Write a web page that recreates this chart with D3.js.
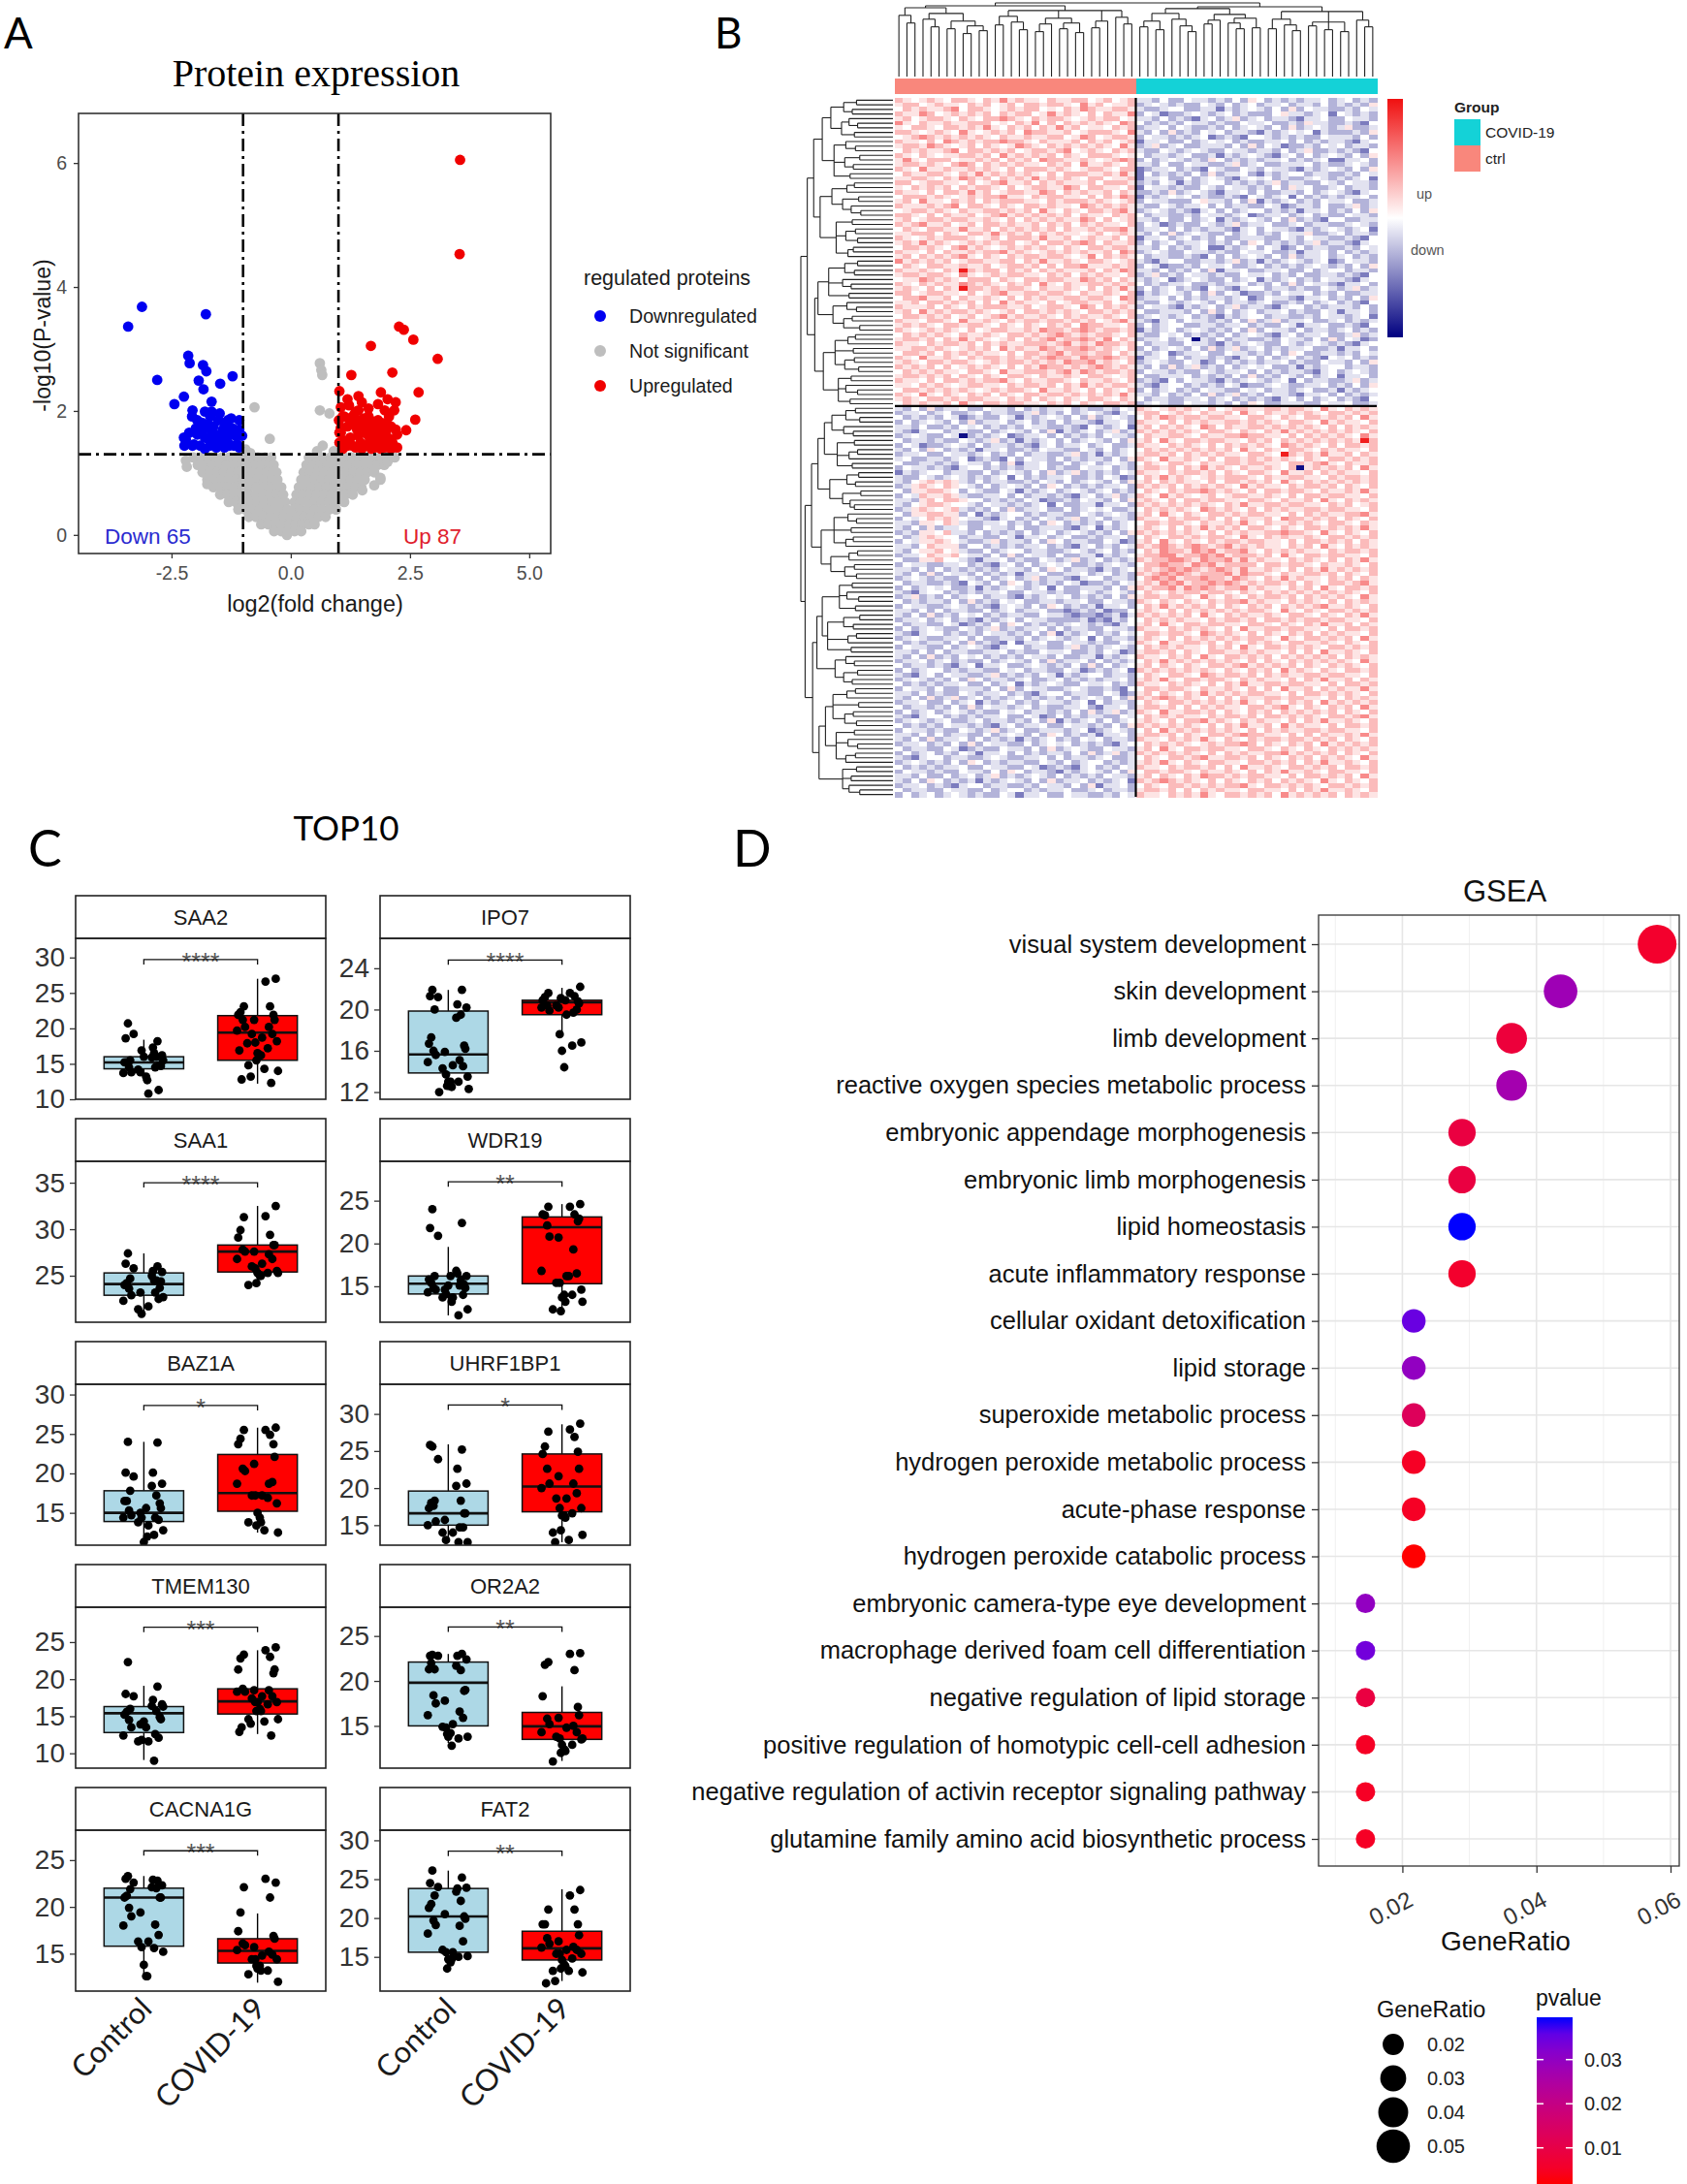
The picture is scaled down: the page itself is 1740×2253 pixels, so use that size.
<!DOCTYPE html>
<html><head><meta charset="utf-8">
<script src="https://cdn.jsdelivr.net/npm/d3@7"></script>
<style>body{margin:0;background:#fff}svg{display:block}</style>
</head><body>
<svg id="fig" width="1740" height="2253"></svg>
<script>
// ================= DATA =================
// ---- Panel A : volcano ----
const volcanoXTicks = [-2.5, 0, 2.5, 5];
const volcanoYTicks = [0, 2, 4, 6];
const volcanoXDomain = [-4.45, 5.45];
const volcanoYDomain = [-0.3, 6.8];
const fcCut = 1, pCut = 1.301;
const volcanoDown = [[-3.12,3.68],[-3.41,3.36],[-1.78,3.56],[-2.80,2.50],[-2.15,2.89],[-2.12,2.77],[-1.84,2.74],[-1.77,2.64],[-1.93,2.49],[-1.83,2.35],[-1.48,2.44],[-1.22,2.56],[-2.24,2.23],[-2.44,2.11],[-1.66,2.15],[-2.06,2.01],[-1.69,1.91],[-1.49,1.96],[-1.96,1.85],[-1.32,1.85],[-1.08,1.85],[-2.20,1.54],[-2.03,1.46],[-1.83,1.70],[-1.62,1.75],[-1.42,1.70],[-1.22,1.72],[-1.80,1.57],[-1.56,1.60],[-1.35,1.57],[-1.15,1.60],[-1.69,1.44],[-1.49,1.46],[-1.29,1.44],[-1.12,1.46],[-1.90,1.44],[-1.73,1.78],[-1.39,1.80],[-2.13,1.65],[-1.96,1.62],[-1.62,1.52],[-1.25,1.62],[-1.08,1.70],[-1.52,1.85],[-2.07,1.91],[-1.86,1.81],[-1.65,1.65],[-1.45,1.55],[-1.32,1.49],[-1.19,1.44],[-2.06,1.44],[-2.23,1.44],[-1.73,1.55],[-1.39,1.41],[-1.56,1.41],[-1.80,1.39],[-1.08,1.41],[-1.25,1.88],[-1.66,1.99],[-1.35,1.70],[-1.49,1.62],[-1.99,1.72],[-1.02,1.60],[-2.24,1.57],[-1.80,1.99]];
const volcanoUp = [[3.55,6.05],[3.54,4.53],[2.27,3.36],[2.37,3.31],[2.57,3.15],[1.68,3.05],[3.08,2.84],[1.27,2.58],[2.13,2.62],[2.68,2.30],[1.02,2.32],[1.42,2.24],[1.89,2.30],[2.03,2.19],[2.20,2.14],[2.61,1.86],[2.42,1.69],[2.06,1.91],[1.83,2.11],[1.63,2.04],[1.49,2.14],[1.22,2.09],[1.05,2.06],[1.01,1.85],[1.12,1.91],[1.32,1.93],[1.53,1.88],[1.73,1.83],[1.94,1.80],[2.10,1.75],[1.97,2.01],[1.19,1.75],[1.39,1.70],[1.59,1.65],[1.80,1.67],[2.00,1.60],[1.05,1.65],[1.25,1.57],[1.46,1.49],[1.66,1.52],[1.86,1.46],[2.06,1.44],[2.23,1.41],[1.02,1.49],[1.19,1.44],[1.36,1.41],[1.56,1.44],[1.76,1.41],[1.97,1.41],[2.13,1.49],[1.12,1.52],[1.29,1.80],[1.49,1.75],[1.69,1.70],[1.89,1.65],[1.63,1.91],[1.36,1.99],[1.09,1.91],[1.83,1.85],[2.03,1.78],[2.23,1.62],[1.42,1.60],[1.94,1.52],[2.17,2.01],[1.19,2.19],[1.02,1.65],[1.39,1.85],[1.59,1.78],[1.80,1.55],[2.00,1.67],[2.20,1.70],[1.05,1.73],[1.22,1.88],[1.42,2.01],[1.63,1.60],[1.83,1.75],[2.06,1.55],[1.29,1.44],[1.49,1.39],[1.69,1.39],[1.89,1.39],[2.10,1.39],[1.09,1.39]];
// not-significant proteins, grouped by -log10(P) level: [y, [x...]]
const volcanoNSRows = [
  [1.25,[-2.04,-1.89,-1.74,-1.59,-1.44,-1.29,-1.14,-0.99,-0.84,-0.69,-0.54,-0.41,0.38,0.53,0.68,0.83,0.98,1.13,1.28,1.43,1.58,1.73,1.88,2.03,2.18]],
  [1.13,[-1.95,-1.80,-1.65,-1.50,-1.35,-1.20,-1.05,-0.90,-0.75,-0.60,-0.46,-0.36,0.33,0.47,0.62,0.77,0.92,1.07,1.22,1.37,1.52,1.67,1.82,1.96]],
  [1.01,[-1.85,-1.70,-1.55,-1.40,-1.25,-1.10,-0.95,-0.80,-0.65,-0.50,-0.38,-0.30,0.27,0.41,0.56,0.71,0.86,1.01,1.16,1.31,1.46,1.60,1.75]],
  [0.89,[-1.75,-1.60,-1.45,-1.30,-1.15,-1.00,-0.85,-0.70,-0.55,-0.40,-0.28,0.22,0.36,0.50,0.65,0.80,0.95,1.10,1.25,1.40,1.55,1.88]],
  [0.77,[-1.62,-1.47,-1.32,-1.17,-1.02,-0.87,-0.72,-0.57,-0.42,-0.28,-0.20,0.17,0.30,0.45,0.60,0.75,0.90,1.05,1.20,1.35,1.48]],
  [0.65,[-1.48,-1.33,-1.18,-1.03,-0.88,-0.73,-0.58,-0.43,-0.29,-0.16,0.12,0.25,0.40,0.55,0.70,0.85,1.00,1.15,1.30]],
  [0.53,[-1.30,-1.15,-1.00,-0.85,-0.70,-0.55,-0.40,-0.26,-0.12,0.08,0.20,0.35,0.50,0.65,0.80,0.95,1.12]],
  [0.41,[-1.10,-0.95,-0.80,-0.65,-0.50,-0.35,-0.20,-0.07,0.06,0.20,0.35,0.50,0.65,0.80,0.95]],
  [0.29,[-0.88,-0.73,-0.58,-0.43,-0.28,-0.14,0.00,0.14,0.28,0.43,0.58,0.73]],
  [0.17,[-0.62,-0.47,-0.32,-0.17,-0.03,0.10,0.24,0.38,0.50]],
  [0.06,[-0.35,-0.20,-0.06,0.08,0.22]],
  [0.00,[-0.08]]
];
const volcanoNSExtra = [[-2.20,1.20],[-2.18,1.10],[1.50,0.72],[1.88,0.92],[2.03,1.18],[1.75,0.80],[-1.75,0.82],[2.12,1.28],[0.61,2.77],[0.64,2.66],[0.66,2.58],[-0.76,2.06],[0.61,2.01],[0.81,1.96],[-0.44,1.55],[0.67,1.44],[-0.95,1.38],[0.55,1.35],[-0.85,1.32],[0.90,1.35]];
const volcanoLegend = ["Downregulated","Not significant","Upregulated"];
const volcanoCounts = {down:65, up:87};

// ---- Panel B : heatmap (levels 1..9, 5 = 0) ----
const heatLevelValue = {"1":-3.3,"2":-1.8,"3":-1.05,"4":-0.4,"5":0,"6":0.4,"7":1.0,"8":1.7,"9":3.3};
const heatColGroups = d3.range(60).map(i => i < 30 ? "ctrl" : "COVID-19");
const heatRowCut = 67, heatColCut = 30;
const heatRows = [
"76567 65776 57686 76657 66775 67567 44353 35443 43536 53434 34453 45343",
"67756 76657 67567 57767 76586 75667 34543 43354 35345 34453 44353 43436",
"57676 67857 76567 67756 57687 66776 43345 53344 24345 43536 35443 34354",
"76687 56767 67576 77568 67657 57668 35423 34543 45343 33564 43452 54343",
"67567 76576 57787 65767 76567 67756 44353 43245 34634 53443 24453 35443",
"86576 67667 77565 76857 57676 76587 53434 35443 43354 45334 36443 34325",
"65776 57767 68657 67576 86756 65767 34453 54334 35345 43536 34543 46334",
"77656 76586 56767 58776 67567 77658 43536 34354 53443 24345 45243 33436",
"56787 67676 76576 67667 75687 56776 35443 43452 34325 54343 43354 44353",
"76657 58767 67787 76576 66757 67567 24453 35345 45343 34453 53434 43245",
"67768 76567 57656 87657 67676 76586 34634 53344 43536 35423 34354 53443",
"57676 67857 76767 56776 78567 65767 43354 34543 35443 44353 46334 34325",
"76576 56677 67586 76767 57657 77656 53443 45334 24345 43245 35345 43536",
"68657 77566 76757 67587 76676 56787 35345 43436 53434 34453 43452 24453",
"67767 65787 57676 76657 67586 67657 44353 35443 34634 53344 45343 34543",
"76586 67667 67657 57776 76567 76577 23445 34325 43354 35443 24345 43536",
"57667 76576 86767 67657 57776 67686 25343 43536 34453 24345 53443 34354",
"66776 57687 67576 76867 67657 75667 24453 35345 43245 45343 34543 43452",
"77567 76657 56786 67576 76667 57776 34354 24345 53434 34634 43354 35443",
"65767 67576 77657 56776 68757 76657 25443 43354 35443 43536 45334 53443",
"76657 57768 67567 76687 57676 67576 33436 34543 24453 53344 35345 43245",
"57776 76567 67786 65767 76657 57687 24345 45343 34325 43452 53434 34453",
"67586 65767 57677 76657 67776 76567 35443 33564 43536 24345 34354 45334",
"76667 67857 76576 57767 66587 67676 43354 34453 53443 35423 44353 34634",
"56776 76576 67767 67586 57657 76786 34543 43245 35345 53434 24453 43536",
"77657 57667 56786 76767 67576 65767 53443 34354 43452 34453 45343 35443",
"67567 76776 67657 57676 76687 57567 44353 35345 24345 43536 34325 53344",
"76786 67567 57767 66757 67576 76657 35423 43354 34634 45334 53443 34543",
"57657 76686 67576 76767 57667 67786 34453 53434 43245 35443 24345 43452",
"66777 57657 76867 67576 76656 75676 43536 34543 35345 34354 46334 53443",
"76567 67776 56757 77686 67567 66757 24453 45343 53344 43354 35443 34325",
"67686 76567 67677 56757 76787 57667 35345 34453 43536 53434 34634 43245",
"57767 65786 76567 67676 57657 76776 44353 43452 24345 35423 53443 34354",
"76657 57667 67786 76567 67676 67587 34543 35443 43354 45334 24453 53434",
"67576 76786 57657 67767 76568 57676 53443 34325 35345 43536 34453 45343",
"86767 67567 76677 57686 67657 76567 43245 53344 34634 24345 43452 35443",
"57657 76676 67567 76757 57786 66767 35423 34354 45334 53434 34543 43536",
"76676 57697 67757 67576 76667 57687 44353 43536 24453 34453 35345 53443",
"67767 76586 56767 76657 67576 76657 34634 35443 43354 45343 53344 34325",
"56687 67657 77576 57767 76687 67576 43452 34543 35345 24345 34354 43245",
"76576 76687 67657 67586 57667 76767 53434 45334 34453 43536 35443 24453",
"67657 57697 76767 76576 67657 57686 35345 34325 43245 53443 43354 34634",
"77567 76657 56786 67767 76576 67657 24345 43536 35423 34354 45343 53344",
"57786 67576 67657 57676 67767 76587 34453 53434 43452 35443 24453 43536",
"66757 76767 57586 76657 56776 67567 43354 34543 53443 45334 35345 34325",
"76667 57657 67776 67567 76587 57676 35443 24345 34634 43245 53434 44353",
"67586 76776 76567 57767 67657 76767 53344 43536 35345 34453 43354 24453",
"57767 67567 56786 76676 57676 67657 34543 45343 24345 53443 34354 43452",
"76657 76586 67657 67767 76767 56786 43245 35443 43536 34634 45334 53434",
"67676 57767 76576 57657 67587 76657 35345 53344 34453 43354 24453 34325",
"76567 67657 56776 67687 76787 67767 24345 34543 43536 35443 53443 45343",
"57676 76576 67657 76767 87676 77657 43354 53434 35345 43245 34453 34634",
"67767 57686 76567 57678 67787 68576 34453 45143 53443 34354 43536 35423",
"76657 67767 57676 67776 78676 87767 53443 35443 24345 43354 34543 43245",
"66776 76567 67586 76687 67787 67657 35345 43536 34634 53434 45334 24453",
"57767 57676 76657 57767 86776 77576 43452 34453 35443 43536 53344 34354",
"76586 67657 67767 67678 77687 78767 24453 53443 43245 35345 34325 45343",
"67657 76776 56767 76767 68778 67657 34543 35423 53434 34453 43354 43536",
"76767 57567 67657 57687 76767 87676 43536 34634 35345 45334 24345 53443",
"57676 76657 76586 67776 78687 67767 35443 43354 34453 53434 43245 34543",
"67767 67576 57657 76576 67657 76567 53344 45343 43536 34354 35345 24453",
"76657 57767 67786 57667 76576 67657 34325 35443 24345 43452 53443 34634",
"66576 76567 76657 67767 57686 76776 43245 53434 35423 34543 34453 43536",
"57767 67676 56767 76586 67657 57657 35345 34354 43354 53443 45334 24345",
"76586 57657 67576 57767 76767 67686 44353 43536 34634 35443 24453 53434",
"67657 76767 76657 67576 57657 76576 53443 34453 45343 43245 35345 34325",
"57676 67586 57767 76657 67576 57767 34543 35443 43536 53344 43354 45334",
"43536 34453 35443 53434 45343 34354 76567 67657 56776 67767 76586 57676",
"34453 45334 53443 34634 35345 43245 67756 76576 67586 57667 67657 76767",
"53434 35423 43354 24345 43536 34543 57687 67767 76657 76576 57767 67586",
"35345 43536 34453 45343 53443 24453 76657 57676 67767 67657 76586 76657",
"44353 34354 53434 35443 34325 43452 67576 76587 57667 76767 67657 57676",
"43245 53443 35345 43536 24345 34634 76767 67657 76576 57686 76767 67657",
"34543 35413 43452 34453 53434 35443 57667 76576 67787 76657 57676 76586",
"53443 43354 34634 24345 35345 43536 67586 57767 76657 67576 76767 67697",
"35423 34543 53443 43245 34453 45334 76657 67657 57676 76587 67657 57767",
"43536 53434 24453 34354 43354 35345 57676 76767 67586 57657 76576 76657",
"34453 35443 45343 53443 34634 24345 67767 57676 76657 76597 67686 67576",
"45334 43452 34325 35443 53434 43536 76586 67657 57767 67676 57657 76767",
"53344 34354 43536 24453 35345 34543 57657 76576 67767 76657 76786 57667",
"35443 43245 53434 34453 43354 45343 67767 57686 76576 67657 16767 67586",
"24345 53443 35345 43536 34634 34354 76657 67767 57657 76586 67576 76657",
"43354 34543 43452 53434 45334 35423 57686 76567 67776 57667 76657 67767",
"43567 67643 53443 34354 35345 43536 67576 76657 57767 67586 57676 76767",
"34676 57654 35345 43536 53434 34453 76767 57676 76586 76657 67767 57657",
"53667 76535 43354 24345 34543 45343 57657 67787 67657 57767 76576 67686",
"35476 67643 34453 53443 43245 34634 76586 76567 56776 67657 57767 76657",
"44367 57765 53434 35423 34354 43536 67657 57767 76657 76576 67586 57676",
"43567 76554 35443 43452 53344 24453 76767 67676 57686 67767 76657 67567",
"34676 56743 43536 34453 35345 45334 57676 76587 67657 57676 67767 76657",
"53667 76635 24345 53434 43354 34543 67586 57657 76767 76657 57676 67786",
"35457 67654 43245 34354 34634 53443 76657 67767 57576 67587 76767 57657",
"44366 57643 34453 43536 53434 35345 57767 76576 67686 57667 67657 76576",
"43536 34453 35443 53344 43245 24345 67657 57686 76757 76576 57767 67686",
"34366 57443 53434 35345 34543 43536 76767 67657 57676 67787 76586 57657",
"53467 65534 43354 24453 45334 34453 57657 76767 76586 57676 67657 76767",
"35466 76543 34634 43536 53443 35423 67586 57657 67767 76657 57767 67576",
"44357 66635 53434 34453 43245 34354 76787 67876 78676 76657 67586 57676",
"43566 75643 35345 53443 34543 45343 57687 76878 67786 57676 76657 67767",
"34457 66754 43536 35443 53344 24345 67788 67787 86777 67586 57767 76657",
"53366 75543 24453 43354 34634 53434 76778 87687 78686 76657 67657 57686",
"35443 34453 43245 35345 45334 34543 57787 76878 67777 57767 76576 67657",
"44353 53434 34354 43536 53443 24345 67678 78767 87686 67657 57686 76767",
"43536 35443 53434 24453 34453 45343 76787 87677 78687 76576 67767 57657",
"34543 43354 35345 34634 43245 53443 57878 67787 76876 57686 76657 67576",
"53443 34325 43536 53434 35423 34354 67687 86778 78767 67767 57657 76786",
"35345 45334 24345 43452 53344 43536 76778 68787 67786 76657 67586 57767",
"43245 53434 34453 35443 43354 34543 57657 67767 76576 57676 76767 67657",
"34634 35345 53443 24345 45343 43536 67767 76586 57657 67767 57676 76586",
"53434 43536 34354 53344 34453 35443 76576 57657 67786 76657 67657 57676",
"35443 34543 43245 43536 53434 24453 57686 76767 57657 67576 76786 67657",
"44353 53443 35345 34453 32343 42335 67657 57676 76767 76586 57657 76767",
"43536 34354 53434 43354 43233 23424 76767 67586 57676 67657 76576 57686",
"34453 45343 24345 35443 33342 32435 57676 76657 67767 57767 67767 76657",
"53443 35423 43536 53434 34543 43245 67586 57767 76657 76576 57686 67576",
"35345 43354 34634 34453 53443 35443 76657 67676 57586 67767 76657 57767",
"43245 53434 35443 43536 24345 34354 57767 76587 67657 57657 67576 76657",
"34543 34453 53344 35345 43452 53443 67657 57676 76767 76586 57767 67586",
"53434 43536 34325 24453 35443 43354 76586 67767 57657 67657 76676 57657",
"35443 35345 43245 53443 34634 34543 57676 76657 67586 57767 67657 76767",
"44353 53443 34453 43354 45334 35423 67767 57657 76676 76657 57586 67657",
"43536 34354 53434 35443 53344 24345 76657 67586 57767 67576 76767 57676",
"34453 45343 35345 43536 34453 53434 57686 76767 67657 57657 67676 76586",
"53443 43245 24453 34543 43536 35345 67576 57657 76786 76767 57657 67657",
"35345 53434 43354 53443 35423 43452 76767 67676 57657 67586 76576 57767",
"43245 35443 34634 34354 24345 53443 57657 76587 67767 57676 67767 76657",
"34543 43536 53443 45334 53434 34453 67686 57767 76576 76657 57686 67576",
"53434 34453 35345 24345 43354 45343 76657 67657 57686 67767 76657 57767",
"35443 53344 43536 35443 34543 34325 57767 76576 67657 57586 67576 76686",
"44353 43354 34453 43245 53443 35423 67576 57686 76767 76657 57767 67657",
"43536 34634 53434 53434 35345 43536 76787 67657 57576 67767 76657 57676",
"34453 35345 24345 34354 43452 53443 57657 76767 67686 57657 67586 76767",
"53443 43536 35443 45343 34453 24453 67767 57576 76657 76786 57657 67586",
"35345 34543 43354 53443 43536 34634 76586 67767 57657 67576 76767 57657",
"43245 53434 34453 35423 53434 43354 57676 76657 67767 57767 67657 76786",
"34543 45334 53443 43536 24345 35345 67657 57786 76576 76657 57686 67657",
"53434 35443 43245 34453 35443 43536 76767 67657 57686 67586 76657 57767",
"35443 43354 34634 53344 43452 34543 57586 76767 67657 57676 67767 76657",
"44353 53443 35345 43536 53434 24453 67767 57657 76787 76657 57576 67686",
"43536 34453 53434 24345 34354 53443 76657 67686 57657 67767 76767 57657",
"34453 43536 35443 35345 45343 43245 57676 76567 67787 57657 67586 76767",
"53443 35423 43354 43536 34543 35443 67586 57767 76657 76576 57657 67676",
"35345 34354 24453 53434 43536 34634 76767 67657 57676 67786 76767 57657",
"43245 53443 34543 34453 53443 45334 57657 76786 67767 57657 67576 76586",
"34543 43536 53434 43354 35345 53434 67686 57657 76657 76767 57686 67657",
"53434 34453 35443 35423 43245 34354 76657 67767 57586 67657 76767 57767",
"35443 43354 43536 53443 24345 43536 57767 76576 67657 57686 67657 76657",
"44353 35345 34634 34543 53434 35443 67576 57687 76767 76657 57767 67586",
"43536 53434 24345 43536 34453 43452 76787 67657 57657 67576 76586 57657",
"34453 43245 53443 34354 43536 24453 57657 76767 67786 57767 67657 76767",
"53443 35443 35345 53434 45334 53443 67767 57576 76657 76657 57686 67657",
"35345 34543 43354 24453 35443 34354 76657 67686 57767 67586 76767 57676"
];
// dendrograms (x = leaf, number after ")" = merge height in px)
const colTreeCtrl = "(((x,(x,x)56)64,((x,(x,x)52)60,((x,x)50,((x,x)45,(x,x)48)53)58)66)72,(((x,x)54,(x,(x,x)49)57)63,(((x,x)47,x)55,((x,x)50,(x,x)46)56)61,((x,x)51,x)58,(x,(x,x)55)62)69)74";
const colTreeCovid = "(((((x,x)52,(x,x)49)58,(x,(x,(x,x)47)53)60)66,(((x,x)55,x)59,((x,(x,x)50)56,(x,x)51)61)65)71,(((x,x)50,(x,(x,x)48)54)60,((x,x)53,(x,x)49,(x,x)47)57,(x,(x,x)52)59)68)73";
const rowTreeTop = ["(((x,x)34,(x,x)38)46,((x,(x,x)33)41,(x,x)36)48)58","((x,(x,x)35)44,((x,x)31,(x,x)37)45,(x,x)40)55","(((x,x)36,x)43,((x,x)32,(x,(x,x)30)39)47)57","((x,x)38,((x,x)35,(x,x)33)44,((x,x)37,x)42)53","(((x,x)33,(x,x)36)45,(x,(x,x)39)47,(x,x)41)60","((x,(x,x)34)43,((x,x)38,(x,x)31)46)56","(((x,x)35,x)42,(x,x)37,((x,x)36,(x,x)32)45)54","((x,x)39,(x,(x,x)33)44,(x,x)40)51"];
const rowTreeBottom = ["(((x,x)35,(x,x)31)44,(x,(x,x)37)46)57","((x,x)36,((x,x)33,x)41,(x,x)38)52","(((x,x)32,(x,x)35)43,((x,x)30,(x,(x,x)36)40)47)59","((x,(x,x)34)42,(x,x)39,((x,x)37,x)44)55","(((x,x)33,x)41,((x,x)36,(x,x)34)45)58","((x,x)38,(x,(x,x)32)43,(x,x)35)50","(((x,x)31,(x,x)37)46,((x,x)34,x)42,(x,x)39)61","((x,(x,x)36)44,((x,x)33,(x,x)38)46)54","(((x,x)35,x)43,(x,x)32,((x,x)37,(x,x)34)45)56","((x,x)36,(x,(x,x)33)42,((x,x)35,x)44)53","((x,x)34,(x,x)39,(x,(x,x)31)41)47"];
const heatGroupLegend = [["COVID-19","#14D2D7"],["ctrl","#F9877C"]];

// ---- Panel C : TOP10 boxplots ----
const genes = ["SAA2","IPO7","SAA1","WDR19","BAZ1A","UHRF1BP1","TMEM130","OR2A2","CACNA1G","FAT2"];
const groups = ["Control","COVID-19"];
const yLims = [[10,32.7],[11.3,26.9],[20,37.3],[10.8,29.6],[10.9,31.3],[12.3,34],[8,29.7],[10.3,28.2],[11,28.2],[10.6,31.3]];
const yTicks = [[10,15,20,25,30],[12,16,20,24],[25,30,35],[15,20,25],[15,20,25,30],[15,20,25,30],[10,15,20,25],[15,20,25],[15,20,25],[15,20,25,30]];
// box stats: [q1, median, q3, whiskerLow, whiskerHigh]
const ctrlBox = [[14.3,15.2,16.0,12.6,18.4],[13.85,15.65,19.85,12.2,21.9],[22.9,24.1,25.3,20.9,27.4],[14.1,15.3,16.2,11.6,19.6],[13.9,15,17.8,11.3,24],[15,16.6,19.6,12.7,25.9],[12.8,15.4,16.3,9.1,19.1],[15,19.8,22.1,13.1,23],[15.8,21,22,12.6,23.3],[15.6,20.2,23.8,13.5,26.1]];
const covidBox = [[15.5,19.4,21.8,12.2,27],[19.5,20.7,20.9,17.8,22.1],[25.4,27.6,28.3,24,32.5],[15.3,21.9,23.1,12.1,24.6],[15.2,17.5,22.4,12.5,25.8],[16.8,20.2,24.6,12.7,28.6],[15.3,17,18.7,12.6,23.9],[13.5,14.95,16.5,11.1,19.4],[14,15.3,16.6,11.9,19.3],[14.6,16.1,18.3,11.9,23.7]];
const ctrlPts = [
 [20.7,18.2,18.6,19.2,17.3,16.2,15.9,15.5,16,15.2,15.2,14.8,14.7,14.5,13.8,13.8,14.5,13.7,11.3,10.8,14.2,16.9,15.5,16.5,16,13.2,12.7],
 [21.9,21.9,21.3,21.2,20.5,20.2,19.2,20,19.5,17.3,16.7,16.5,16.2,16,15.9,15.6,15.1,14.9,14.5,14.6,14.3,13.7,13.5,13,13,13,12.5,12.6,12,12.3],
 [27.4,26,26.3,25.8,25.5,25.4,25,24.7,24.5,24.2,24,23.7,24.4,23.6,23.2,22.9,23.2,22.3,22.5,21.7,21.4,20.9,22.7,24.5],
 [24,22.4,21.8,20.9,16.5,16.2,16.8,16.2,15.7,15.4,15.8,15.2,14.8,14.8,14.6,14.6,15.1,14.3,14,13.7,13.7,14.1,12.3,11.6,15.1,16.2,13.2],
 [24,23.9,20.1,19.6,20.1,18.7,18.4,17.8,17.2,16.5,16.5,16.2,15.6,15.3,15,14.7,14.4,14.4,14.1,13.4,13.8,14.4,12.8,12.2,11.3,15.6,12],
 [25.6,25.2,25.8,23.9,22.6,20.6,20.3,18.3,18.3,18,17.3,16.6,16.6,17.6,15.7,15.5,14.7,15,14.7,14,14,13,12.7,12.7],
 [22.3,19,18,17.7,17.2,16.6,16.4,16,15.7,15.6,15.2,14.9,14.6,14.5,13.9,13.5,12.6,12.4,12.1,11.6,11.6,11.8,16.3,9,14.3,13.5],
 [22.9,23,22.8,22.8,22.8,22.4,21.7,21.3,21.2,22,21.3,18.9,19,18.4,17.8,17.5,16.6,16.2,15.9,15.2,14.9,14.8,13.8,13.6,13.8,14.2,12.8,14.1],
 [23.3,22.8,23,22.6,22.9,22.3,22.1,21.9,22,21.2,21,21,21,19.9,19.4,19,18.1,18,17,16.3,16.3,15.7,15.2,15.6,13.8,12.6,12.6],
 [26.1,25.2,24.5,24,23.8,23.9,23.4,22.9,22.2,21.8,21.3,20.2,19.9,19.7,20.5,19.1,19,18,17,15.6,15.9,15.6,15.1,15,14.7,14.3,14.7,13.5]
];
const covidPts = [
 [27,26.6,23.1,23.1,22.3,21.9,21.9,21.2,21.2,21.2,20.2,20.2,19.7,19.2,18.7,19.2,18,18.2,17.2,16.5,16.2,16.2,15.5,14.8,14,14.3,13.2,12.8,12.3,16.9,17.9],
 [22.2,21.6,21.6,21.3,21.2,20.9,20.8,20.6,20.4,20.2,19.9,19.7,20.2,20,19.5,20.4,17.6,16.8,16.5,16,14.4,20.9,21.1],
 [32.5,31.4,31.3,29.4,29.9,29.1,28.3,28.3,27.8,27.6,27.6,27.3,26.8,26.8,26.3,26,25.8,25.5,25.3,25.3,25,25,24.2,24,25.3],
 [24.6,24.3,24.3,23.4,23.3,23.4,22.6,22.9,22.1,20.7,20.8,19.3,16.8,16.5,16.2,15.4,15.4,14.6,14,13.7,14,13.2,12.1,12.3,13.2,16.2],
 [25.8,25.5,25.5,24.9,24.4,23.7,23.7,22.1,20.6,21.2,20.3,18.7,18.7,18.9,17.2,17.2,17.2,16.2,16.9,15,14.4,13.8,13.4,13.8,12.5,12.8],
 [28.7,27.9,27.6,26.9,25.6,24.6,24.9,22.6,22.6,21.6,20.6,20.6,20,19.3,18.6,18.6,17.3,17.3,16.6,16.3,16.3,16,14.3,14,13.7,13,12.7],
 [24.3,23.9,23.3,23,22.8,21.3,20.8,21.3,18.7,18.5,18.3,18.5,18.3,17.7,17.7,17.4,16.9,16.9,16.6,16.9,16,15.7,15.7,14.6,14.6,14.3,14,13.5,12.4,12.9],
 [23.1,23,22.1,21.2,21.8,18.3,17.1,16.2,15.8,15.9,15.2,15,14.3,14.3,14.8,13.8,13.6,13.5,12.9,12.9,12.4,12.2,12,11.05,13.6],
 [22.6,23,22.1,21,19.4,17.4,16.9,16.6,16.1,15.7,15.9,15.2,15.4,14.9,14.8,14.4,14.4,14.4,13.2,13.4,13.7,13.2,13.7,12.8,12],
 [23.6,22.9,21.1,21.1,19.2,19.2,19.2,17.8,17.4,17,16.7,16.3,16.2,15.9,15.9,15.4,15.4,15.4,14.8,14.6,14,13.8,13.5,13.2,13,13.2,11.9,11.6]
];
const bracketY = [29.7,24.8,35.0,27.2,28.6,31.2,27.0,26.0,26.0,28.6];
const stars = ["****","****","****","**","*","*","***","**","***","**"];
const jitterPattern = [-0.14,0.09,-0.03,0.16,-0.08,0.04,-0.17,0.12,0.0,-0.11,0.07,0.18,-0.05,0.14,-0.16,0.02,0.1,-0.12,0.06,-0.02,0.15,-0.09,0.03,-0.18,0.11,-0.06,0.17,-0.13,0.08,-0.01,0.13,-0.15];

// ---- Panel D : GSEA ----
const terms = ["visual system development","skin development","limb development","reactive oxygen species metabolic process","embryonic appendage morphogenesis","embryonic limb morphogenesis","lipid homeostasis","acute inflammatory response","cellular oxidant detoxification","lipid storage","superoxide metabolic process","hydrogen peroxide metabolic process","acute-phase response","hydrogen peroxide catabolic process","embryonic camera-type eye development","macrophage derived foam cell differentiation","negative regulation of lipid storage","positive regulation of homotypic cell-cell adhesion","negative regulation of activin receptor signaling pathway","glutamine family amino acid biosynthetic process"];
const geneRatio = [0.058,0.0436,0.0363,0.0363,0.0289,0.0289,0.0289,0.0289,0.0217,0.0217,0.0217,0.0217,0.0217,0.0217,0.0145,0.0145,0.0145,0.0145,0.0145,0.0145];
const pvalue = [0.006,0.028,0.008,0.027,0.009,0.009,0.0396,0.006,0.035,0.030,0.013,0.005,0.005,0.0018,0.030,0.034,0.009,0.005,0.005,0.005];
const gseaXTicks = [0.02,0.04,0.06];
const gseaGrid = [0.01,0.02,0.03,0.04,0.05,0.06];
const gseaXDomain = [0.0075,0.0613];
const sizeLegend = [0.02,0.03,0.04,0.05];
const pLegendTicks = [0.01,0.02,0.03];
const pDomain = [0.0018,0.0396];

// ================= DRAWING =================
const svg = d3.select("#fig");
const SANS = "'Liberation Sans', Arial, Helvetica, sans-serif";
const HUM = "Lato, 'Open Sans', 'Liberation Sans', sans-serif";
const SERIF = "'Liberation Serif', 'Times New Roman', serif";
svg.append("rect").attr("width",1740).attr("height",2253).attr("fill","#fff");

// panel letters
[["A",4,50,44],["B",737,50,44],["C",29,894,52],["D",756,894,52]].forEach(([t,x,y,s])=>{
  svg.append("text").attr("x",x).attr("y",y).attr("font-family",HUM).attr("font-size",s).attr("fill","#000").text(t);
});

// ---------- Panel A ----------
(function(){
  const P = {x0:81,x1:568,y0:117,y1:571};
  const x = d3.scaleLinear().domain(volcanoXDomain).range([P.x0,P.x1]);
  const y = d3.scaleLinear().domain(volcanoYDomain).range([P.y1,P.y0]);
  const g = svg.append("g");
  g.append("text").attr("x",326).attr("y",89).attr("text-anchor","middle").attr("font-family",SERIF).attr("font-size",40).text("Protein expression");
  g.append("clipPath").attr("id","clipA").append("rect").attr("x",P.x0).attr("y",P.y0).attr("width",P.x1-P.x0).attr("height",P.y1-P.y0);
  const pg = g.append("g").attr("clip-path","url(#clipA)");
  const ns = volcanoNSRows.flatMap(([yy,xs])=>xs.map(xx=>[xx,yy])).concat(volcanoNSExtra);
  const R = 5.4;
  pg.selectAll("circle.ns").data(ns).join("circle").attr("cx",d=>x(d[0])).attr("cy",d=>y(d[1])).attr("r",R).attr("fill","#BEBEBE");
  pg.selectAll("circle.dn").data(volcanoDown).join("circle").attr("cx",d=>x(d[0])).attr("cy",d=>y(d[1])).attr("r",R).attr("fill","#0000F0");
  pg.selectAll("circle.up").data(volcanoUp).join("circle").attr("cx",d=>x(d[0])).attr("cy",d=>y(d[1])).attr("r",R).attr("fill","#F00000");
  const dash = "13,5,3,5";
  [-fcCut, fcCut].forEach(v=>pg.append("line").attr("x1",x(v)).attr("x2",x(v)).attr("y1",P.y0).attr("y2",P.y1).attr("stroke","#000").attr("stroke-width",2.6).attr("stroke-dasharray",dash));
  pg.append("line").attr("x1",P.x0).attr("x2",P.x1).attr("y1",y(pCut)).attr("y2",y(pCut)).attr("stroke","#000").attr("stroke-width",2.6).attr("stroke-dasharray",dash);
  g.append("text").attr("x",x(-3.9)).attr("y",y(0)+9).attr("font-family",SANS).attr("font-size",22.5).attr("fill","#2b2bd0").text("Down "+volcanoCounts.down);
  g.append("text").attr("x",x(2.36)).attr("y",y(0)+9).attr("font-family",SANS).attr("font-size",22.5).attr("fill","#e0202c").text("Up "+volcanoCounts.up);
  g.append("rect").attr("x",P.x0).attr("y",P.y0).attr("width",P.x1-P.x0).attr("height",P.y1-P.y0).attr("fill","none").attr("stroke","#333").attr("stroke-width",1.6);
  const ax = g.append("g").attr("transform",`translate(0,${P.y1})`).call(d3.axisBottom(x).tickValues(volcanoXTicks).tickFormat(d=>d.toFixed(1)).tickSize(5).tickPadding(8));
  const ay = g.append("g").attr("transform",`translate(${P.x0},0)`).call(d3.axisLeft(y).tickValues(volcanoYTicks).tickFormat(d=>String(d)).tickSize(5).tickPadding(7));
  [ax,ay].forEach(a=>{a.select(".domain").remove(); a.selectAll("line").attr("stroke","#333").attr("stroke-width",1.3); a.selectAll("text").attr("font-family",SANS).attr("font-size",19.5).attr("fill","#4d4d4d");});
  g.append("text").attr("x",325).attr("y",631).attr("text-anchor","middle").attr("font-family",SANS).attr("font-size",23.5).attr("fill","#1a1a1a").text("log2(fold change)");
  g.append("text").attr("transform","translate(52,346) rotate(-90)").attr("text-anchor","middle").attr("font-family",SANS).attr("font-size",23).attr("fill","#1a1a1a").text("-log10(P-value)");
  g.append("text").attr("x",602).attr("y",294).attr("font-family",SANS).attr("font-size",21.5).attr("fill","#1a1a1a").text("regulated proteins");
  const lc = ["#0000F0","#BEBEBE","#F00000"];
  volcanoLegend.forEach((t,i)=>{
    const yy = 326 + i*36;
    g.append("circle").attr("cx",619).attr("cy",yy).attr("r",6).attr("fill",lc[i]);
    g.append("text").attr("x",649).attr("y",yy+7).attr("font-family",SANS).attr("font-size",19.6).attr("fill","#1a1a1a").text(t);
  });
})();

// ---------- Panel B ----------
(function(){
  const H = {x0:923,x1:1420,y0:101,y1:822};
  const nCol = 60, nRow = heatRows.length;
  const xc = d3.scaleBand().domain(d3.range(nCol)).range([H.x0,H.x1]);
  const yc = d3.scaleBand().domain(d3.range(nRow)).range([H.y0,H.y1]);
  const col = d3.scaleLinear().domain([-3.5,0,3.5]).range(["#000080","#ffffff","#F01010"]).clamp(true);
  const g = svg.append("g").attr("shape-rendering","crispEdges");
  const cells = [];
  heatRows.forEach((s,r)=>{ const t = s.replace(/\s+/g,""); for(let c=0;c<nCol;c++){ const ch = t[c]||"5"; cells.push({r,c,v:heatLevelValue[ch]}); } });
  g.selectAll("rect").data(cells).join("rect").attr("x",d=>xc(d.c)).attr("y",d=>yc(d.r)).attr("width",xc.bandwidth()+0.6).attr("height",yc.bandwidth()+0.6).attr("fill",d=>col(d.v));
  const annCol = {"COVID-19":heatGroupLegend[0][1], "ctrl":heatGroupLegend[1][1]};
  g.selectAll("rect.ann").data(heatColGroups).join("rect").attr("class","ann").attr("x",(d,i)=>xc(i)).attr("y",81).attr("width",xc.bandwidth()+0.6).attr("height",16).attr("fill",d=>annCol[d]);
  const lg = svg.append("g");
  lg.append("line").attr("x1",xc(heatColCut)).attr("x2",xc(heatColCut)).attr("y1",H.y0).attr("y2",H.y1).attr("stroke","#000").attr("stroke-width",2.2);
  lg.append("line").attr("x1",H.x0).attr("x2",H.x1).attr("y1",yc(heatRowCut)).attr("y2",yc(heatRowCut)).attr("stroke","#000").attr("stroke-width",2.2);
  function parseTree(s){
    let i=0;
    function node(){
      if(s[i]==='x'){ i++; return {children:null,h:0}; }
      i++; const ch=[node()];
      while(s[i]===','){ i++; ch.push(node()); }
      i++; let num='';
      while(i<s.length && /[0-9]/.test(s[i])){ num+=s[i]; i++; }
      return {children:ch,h:+num};
    }
    return node();
  }
  function layout(t){ let k=0; (function w(n){ if(!n.children){n.pos=k++;return;} n.children.forEach(w); n.pos=(n.children[0].pos+n.children[n.children.length-1].pos)/2; })(t); return k; }
  function segs(t){ const out=[]; (function w(n){ if(!n.children) return; n.children.forEach(c=>{ out.push([c.pos,c.h,c.pos,n.h]); w(c); }); out.push([n.children[0].pos,n.h,n.children[n.children.length-1].pos,n.h]); })(t); return out; }
  const colTree = parseTree("("+colTreeCtrl+","+colTreeCovid+")77");
  layout(colTree);
  const T = rowTreeTop, B = rowTreeBottom;
  const rowTree = parseTree("((((" + T[0]+","+T[1]+")66,("+T[2]+","+T[3]+")68)74,(("+T[4]+","+T[5]+")70,("+T[6]+","+T[7]+")65)73)80,"+
    "(((("+B[0]+","+B[1]+")64,"+B[2]+")70,("+B[3]+","+B[4]+")67)76,((("+B[5]+","+B[6]+")66,"+B[7]+")71,(("+B[8]+","+B[9]+")63,"+B[10]+")69)75)82)86");
  layout(rowTree);
  const cPos = i => H.x0 + (i+0.5)*xc.step();
  const cH = d3.scaleLinear().domain([0,77]).range([79,3]);
  const rPos = i => H.y0 + (i+0.5)*yc.step();
  const rH = d3.scaleLinear().domain([0,86]).range([921,826]);
  const dg = svg.append("g").attr("stroke","#222").attr("stroke-width",1.1).attr("fill","none");
  dg.selectAll("line.c").data(segs(colTree)).join("line").attr("x1",d=>cPos(d[0])).attr("y1",d=>cH(d[1])).attr("x2",d=>cPos(d[2])).attr("y2",d=>cH(d[3]));
  dg.selectAll("line.r").data(segs(rowTree)).join("line").attr("class","r").attr("y1",d=>rPos(d[0])).attr("x1",d=>rH(d[1])).attr("y2",d=>rPos(d[2])).attr("x2",d=>rH(d[3]));
  const defs = svg.append("defs");
  const gr = defs.append("linearGradient").attr("id","heatGrad").attr("x1",0).attr("y1",1).attr("x2",0).attr("y2",0);
  d3.range(0,1.0001,0.1).forEach(t=>gr.append("stop").attr("offset",t).attr("stop-color",col(-3.5+7*t)));
  svg.append("rect").attr("x",1431).attr("y",102).attr("width",16).attr("height",246).attr("fill","url(#heatGrad)");
  svg.append("text").attr("x",1461).attr("y",205).attr("font-family",SANS).attr("font-size",14.5).attr("fill","#555").text("up");
  svg.append("text").attr("x",1455).attr("y",263).attr("font-family",SANS).attr("font-size",14.5).attr("fill","#555").text("down");
  svg.append("text").attr("x",1500).attr("y",116).attr("font-family",SANS).attr("font-weight","bold").attr("font-size",15.5).attr("fill","#222").text("Group");
  heatGroupLegend.forEach(([t,c],i)=>{
    svg.append("rect").attr("x",1500).attr("y",123+i*27).attr("width",27).attr("height",27).attr("fill",c);
    svg.append("text").attr("x",1532).attr("y",142+i*27).attr("font-family",SANS).attr("font-size",15.5).attr("fill","#222").text(t);
  });
})();

// ---------- Panel C ----------
(function(){
  svg.append("text").attr("x",357).attr("y",867).attr("text-anchor","middle").attr("font-family",HUM).attr("font-size",35).attr("fill","#000").text("TOP10");
  const L = {colX:[78,392], colW:258, rowTop:924, rowPitch:230, stripH:44, plotH:166};
  const fills = ["#ADD8E6","#FF0000"];
  genes.forEach((gene,i)=>{
    const c = i%2, r = Math.floor(i/2);
    const x0 = L.colX[c], x1 = x0+L.colW;
    const top = L.rowTop + r*L.rowPitch;
    const py0 = top+L.stripH, py1 = py0+L.plotH;
    const xs = d3.scaleLinear().domain([0.4,2.6]).range([x0,x1]);
    const ys = d3.scaleLinear().domain(yLims[i]).range([py1,py0]);
    const g = svg.append("g");
    g.append("rect").attr("x",x0).attr("y",top).attr("width",L.colW).attr("height",L.stripH).attr("fill","#fff").attr("stroke","#222").attr("stroke-width",1.6);
    g.append("text").attr("x",x0+L.colW/2).attr("y",top+L.stripH/2+8).attr("text-anchor","middle").attr("font-family",SANS).attr("font-size",22).attr("fill","#1a1a1a").text(gene);
    const cid = "clipC"+i;
    g.append("clipPath").attr("id",cid).append("rect").attr("x",x0).attr("y",py0).attr("width",L.colW).attr("height",L.plotH);
    const pg = g.append("g").attr("clip-path",`url(#${cid})`);
    [ctrlBox[i], covidBox[i]].forEach((b,k)=>{
      const cx = xs(k+1), hw = (xs(1.35)-xs(1));
      pg.append("line").attr("x1",cx).attr("x2",cx).attr("y1",ys(b[3])).attr("y2",ys(b[4])).attr("stroke","#000").attr("stroke-width",1.4);
      pg.append("rect").attr("x",cx-hw).attr("width",2*hw).attr("y",ys(b[2])).attr("height",ys(b[0])-ys(b[2])).attr("fill",fills[k]).attr("stroke","#111").attr("stroke-width",1.5);
      pg.append("line").attr("x1",cx-hw).attr("x2",cx+hw).attr("y1",ys(b[1])).attr("y2",ys(b[1])).attr("stroke","#111").attr("stroke-width",2.6);
    });
    [ctrlPts[i], covidPts[i]].forEach((pts,k)=>{
      pg.selectAll(null).data(pts).join("circle").attr("cx",(d,j)=>xs(k+1+jitterPattern[(j*7+k*3)%jitterPattern.length])).attr("cy",d=>ys(d)).attr("r",4.4).attr("fill","#000");
    });
    const by = ys(bracketY[i]);
    g.append("text").attr("x",(xs(1)+xs(2))/2).attr("y",by+11).attr("text-anchor","middle").attr("font-family",SANS).attr("font-size",25).attr("fill","#555").text(stars[i]);
    g.append("path").attr("d",`M${xs(1)},${by+5}V${by}H${xs(2)}V${by+5}`).attr("fill","none").attr("stroke","#111").attr("stroke-width",1.3);
    g.append("rect").attr("x",x0).attr("y",py0).attr("width",L.colW).attr("height",L.plotH).attr("fill","none").attr("stroke","#222").attr("stroke-width",1.6);
    const ay = g.append("g").attr("transform",`translate(${x0},0)`).call(d3.axisLeft(ys).tickValues(yTicks[i]).tickSize(6).tickPadding(5));
    ay.select(".domain").remove();
    ay.selectAll("line").attr("stroke","#333").attr("stroke-width",1.3);
    ay.selectAll("text").attr("font-family",SANS).attr("font-size",28).attr("fill","#333");
    if(r===4){
      groups.forEach((lab,k)=>{
        g.append("text").attr("transform",`translate(${xs(k+1)+10},${py1+20}) rotate(-45)`).attr("text-anchor","end").attr("font-family",HUM).attr("font-size",31).attr("fill","#1a1a1a").text(lab);
      });
    }
  });
})();

// ---------- Panel D ----------
(function(){
  const P = {x0:1360,x1:1732,y0:944,y1:1925};
  const x = d3.scaleLinear().domain(gseaXDomain).range([P.x0,P.x1]);
  const y = d3.scalePoint().domain(terms).range([974,1897]);
  const size = d3.scaleSqrt().domain([0,0.058]).range([0,20]);
  const color = d3.scaleLinear().domain(pDomain).range(["#FF0000","#0000FF"]).interpolate(d3.interpolateLab);
  const g = svg.append("g");
  g.append("text").attr("x",1552).attr("y",930).attr("text-anchor","middle").attr("font-family",SANS).attr("font-size",31).attr("fill","#111").text("GSEA");
  gseaGrid.forEach(v=>{
    const major = gseaXTicks.includes(v);
    g.append("line").attr("x1",x(v)).attr("x2",x(v)).attr("y1",P.y0).attr("y2",P.y1).attr("stroke",major?"#e6e6e6":"#f0f0f0").attr("stroke-width",major?1.6:1);
  });
  terms.forEach(t=>g.append("line").attr("x1",P.x0).attr("x2",P.x1).attr("y1",y(t)).attr("y2",y(t)).attr("stroke","#e6e6e6").attr("stroke-width",1.6));
  g.selectAll("circle.pt").data(terms).join("circle").attr("cx",(d,i)=>x(geneRatio[i])).attr("cy",d=>y(d)).attr("r",(d,i)=>size(geneRatio[i])).attr("fill",(d,i)=>color(pvalue[i]));
  g.append("rect").attr("x",P.x0).attr("y",P.y0).attr("width",P.x1-P.x0).attr("height",P.y1-P.y0).attr("fill","none").attr("stroke","#333").attr("stroke-width",1.3);
  const ay = g.append("g").attr("transform",`translate(${P.x0},0)`).call(d3.axisLeft(y).tickSize(7).tickPadding(6));
  ay.select(".domain").remove();
  ay.selectAll("line").attr("stroke","#333").attr("stroke-width",1.3);
  ay.selectAll("text").attr("font-family",SANS).attr("font-size",25.5).attr("fill","#111");
  const ax = g.append("g").attr("transform",`translate(0,${P.y1})`).call(d3.axisBottom(x).tickValues(gseaXTicks).tickSize(7).tickFormat(d=>d.toFixed(2)));
  ax.select(".domain").remove();
  ax.selectAll("line").attr("stroke","#333").attr("stroke-width",1.3);
  ax.selectAll("text").attr("font-family",SANS).attr("font-size",24).attr("fill","#333").attr("text-anchor","end").attr("dy",null).attr("y",null).attr("transform","translate(12,40) rotate(-28)");
  g.append("text").attr("x",1553).attr("y",2012).attr("text-anchor","middle").attr("font-family",SANS).attr("font-size",28).attr("fill","#111").text("GeneRatio");
  g.append("text").attr("x",1420).attr("y",2081).attr("font-family",SANS).attr("font-size",23.5).attr("fill","#111").text("GeneRatio");
  sizeLegend.forEach((v,i)=>{
    const yy = 2109 + i*35;
    g.append("circle").attr("cx",1437).attr("cy",yy).attr("r",size(v)*0.93).attr("fill","#000");
    g.append("text").attr("x",1472).attr("y",yy+7).attr("font-family",SANS).attr("font-size",20).attr("fill","#222").text(v.toFixed(2));
  });
  g.append("text").attr("x",1584).attr("y",2069).attr("font-family",SANS).attr("font-size",23).attr("fill","#111").text("pvalue");
  const bar = {x:1585,w:37,y0:2081,y1:2253};
  const cy = d3.scaleLinear().domain(pDomain).range([bar.y1,bar.y0]);
  const grad = svg.append("defs").append("linearGradient").attr("id","pGrad").attr("x1",0).attr("y1",1).attr("x2",0).attr("y2",0);
  d3.range(0,1.0001,0.1).forEach(t=>grad.append("stop").attr("offset",t).attr("stop-color",color(pDomain[0]+t*(pDomain[1]-pDomain[0]))));
  g.append("rect").attr("x",bar.x).attr("y",bar.y0).attr("width",bar.w).attr("height",bar.y1-bar.y0).attr("fill","url(#pGrad)");
  pLegendTicks.forEach(v=>{
    g.append("line").attr("x1",bar.x).attr("x2",bar.x+7).attr("y1",cy(v)).attr("y2",cy(v)).attr("stroke","#fff").attr("stroke-width",1.5);
    g.append("line").attr("x1",bar.x+bar.w-7).attr("x2",bar.x+bar.w).attr("y1",cy(v)).attr("y2",cy(v)).attr("stroke","#fff").attr("stroke-width",1.5);
    g.append("text").attr("x",bar.x+bar.w+12).attr("y",cy(v)+7).attr("font-family",SANS).attr("font-size",20).attr("fill","#222").text(v.toFixed(2));
  });
})();
</script>
</body></html>
